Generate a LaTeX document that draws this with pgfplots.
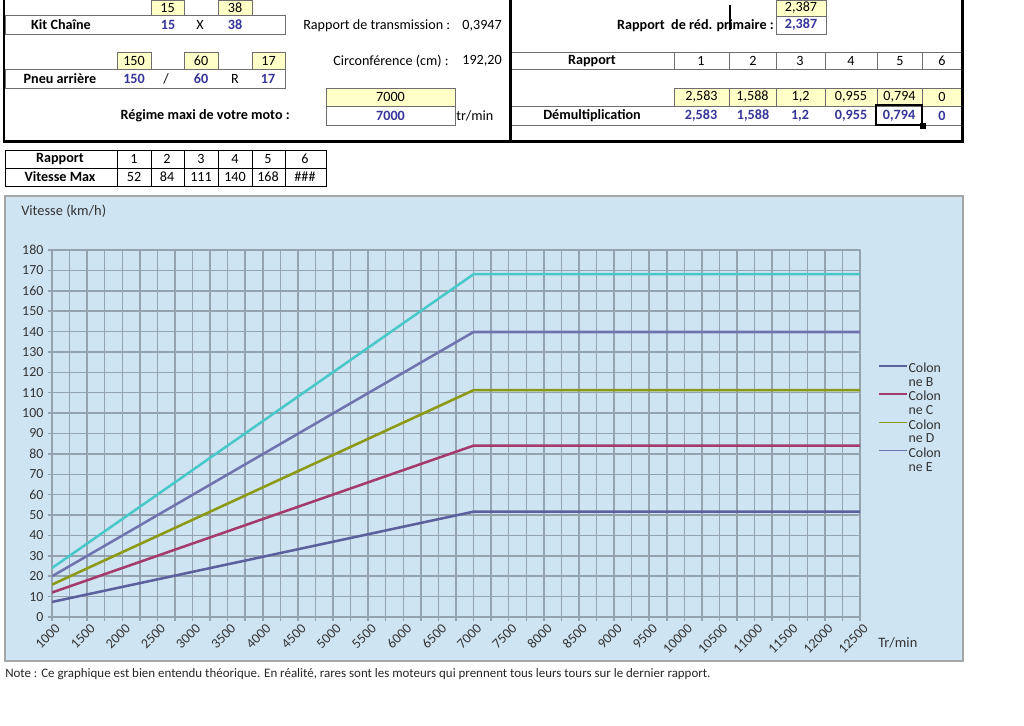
\documentclass[border=0pt]{standalone}
\usepackage{pgfplots}
\pgfplotsset{compat=1.18}
\usepackage{fontspec}
\setmainfont{Carlito}
\definecolor{bgchart}{HTML}{CFE4F2}
\definecolor{gridc}{HTML}{95A3AE}
\definecolor{yel}{HTML}{FFFFC8}
\definecolor{valblue}{HTML}{35359A}
\definecolor{cellline}{HTML}{6E6E6E}
\definecolor{sB}{HTML}{5C619E}
\definecolor{sC}{HTML}{A53A6C}
\definecolor{sD}{HTML}{8B9A12}
\definecolor{sE}{HTML}{7074AE}
\definecolor{sF}{HTML}{48C8C8}
\newcommand{\mf}{\fontsize{10.6}{12}\selectfont}
\newcommand{\ycell}[5]{\filldraw[fill=yel,draw=cellline,line width=0.6pt] (#1,-#2) rectangle (#3,-#4); \node at ({(#1+#3)/2},{-(#2+#4)/2}) {#5};}
\newcommand{\wcell}[5]{\filldraw[fill=white,draw=cellline,line width=0.6pt] (#1,-#2) rectangle (#3,-#4); \node[text=valblue,font=\mf\bfseries] at ({(#1+#3)/2},{-(#2+#4)/2}) {#5};}
\newcommand{\bv}[3]{\node[text=valblue,font=\mf\bfseries] at (#1,-#2) {#3};}
\begin{document}
\begin{tikzpicture}[x=0.75pt,y=0.75pt,font=\mf, inner sep=0pt]
\useasboundingbox (0,0) rectangle (1024,-725);
\fill[white] (0,0) rectangle (1024,-725);
% ---------- left block ----------
\ycell{151}{0}{184}{15}{15}
\ycell{218}{0}{252}{15}{38}
\draw[cellline,line width=0.6pt] (5,-15) rectangle (285,-34);
\node[font=\mf\bfseries] at (61,-25) {Kit Chaîne};
\bv{168}{25}{15}
\node at (200,-25) {X};
\bv{235}{25}{38}
\node[anchor=west] at (303,-26) {Rapport de transmission :};
\node[anchor=east] at (502,-26) {0,3947};
\ycell{117}{52}{151}{69}{150}
\ycell{184}{52}{218}{69}{60}
\ycell{252}{52}{285}{69}{17}
\draw[cellline,line width=0.6pt] (5,-69) rectangle (285,-88);
\node[font=\mf\bfseries] at (60,-79) {Pneu arrière};
\bv{134}{79}{150}
\node at (166,-79) {/};
\bv{201}{79}{60}
\node at (235,-79) {R};
\bv{268}{79}{17}
\node[anchor=west] at (333,-61) {Circonférence (cm) :};
\node[anchor=east] at (502,-61) {192,20};
\ycell{326}{88}{455}{106}{7000}
\wcell{326}{106}{455}{125}{7000}
\node[anchor=west] at (456,-116) {tr/min};
\node[anchor=east,font=\mf\bfseries] at (290,-116) {Régime maxi de votre moto :};
% ---------- right block ----------
\ycell{776}{0}{826}{16}{2,387}
\wcell{776}{16}{826}{34}{2,387}
\node[anchor=east,font=\mf\bfseries] at (774,-26) {Rapport\ \ de réd. primaire :};
\draw[black,line width=1.3pt] (730,-5) -- (730,-30);
\draw[cellline,line width=0.6pt] (510,-52) -- (962,-52) (510,-69) -- (962,-69);
\foreach \xx in {674,729,776,825,877,922} {\draw[cellline,line width=0.6pt] (\xx,-52) -- (\xx,-69);}
\node[font=\mf\bfseries] at (592,-61) {Rapport};
\foreach \xx/\tt in {701/1,753/2,800/3,851/4,900/5,942/6} {\node at (\xx,-61) {\tt};}
\ycell{674}{88}{729}{106}{2,583}
\ycell{729}{88}{776}{106}{1,588}
\ycell{776}{88}{825}{106}{1,2}
\ycell{825}{88}{877}{106}{0,955}
\ycell{877}{88}{922}{106}{0,794}
\ycell{922}{88}{962}{106}{0}
\draw[cellline,line width=0.6pt] (510,-106) rectangle (962,-125);
\node[font=\mf\bfseries] at (592,-116) {Démultiplication};
\bv{701}{116}{2,583}
\bv{753}{116}{1,588}
\bv{800}{116}{1,2}
\bv{851}{116}{0,955}
\bv{899}{116}{0,794}
\bv{942}{116}{0}
\draw[black,line width=1.6pt] (876,-105) rectangle (922,-125);
\fill[black] (920,-123) rectangle (926,-129);
% thick outer borders
\draw[black,line width=2.2pt] (4,0) -- (4,-141.5) -- (962.5,-141.5) -- (962.5,0);
\draw[black,line width=2.2pt] (510.5,0) -- (510.5,-141.5);
% ---------- small table ----------
\draw[black,line width=0.7pt] (5,-150) rectangle (326,-186);
\draw[black,line width=0.7pt] (5,-168) -- (326,-168);
\foreach \xx in {117,151,184,218,252,285} {\draw[black,line width=0.7pt] (\xx,-150) -- (\xx,-186);}
\node[font=\mf\bfseries] at (60,-159) {Rapport};
\node[font=\mf\bfseries] at (60,-177) {Vitesse Max};
\foreach \xx/\tt in {134/1,167/2,201/3,235/4,268/5,305/6} {\node at (\xx,-159) {\tt};}
\foreach \xx/\tt in {134/52,167/84,201/111,235/140,268/168,305/\#\#\#} {\node at (\xx,-177) {\tt};}
% ---------- chart area ----------
\filldraw[fill=bgchart,draw=black!35,line width=1.2pt] (5,-196) rectangle (963,-661);
\node[anchor=west,text=black!80,font=\fontsize{10.8}{12}\selectfont] at (21,-211) {Vitesse (km/h)};
\node[anchor=west,text=black!80,font=\fontsize{10.8}{12}\selectfont] at (878,-643) {Tr/min};
\begin{axis}[
  at={(39pt,-462.75pt)}, anchor=south west, scale only axis,
  width=606pt, height=275.25pt,
  xmin=1000, xmax=12500, ymin=0, ymax=180,
  xtick={1000,1500,...,12500}, minor x tick num=1,
  ytick={0,10,...,180},
  xtick pos=bottom, ytick pos=left,
  grid=both,
  major grid style={gridc,line width=1.1pt},
  minor grid style={gridc,line width=1.1pt},
  axis line style={gridc,line width=1.1pt},
  tick style={gridc,line width=1.1pt},
  tick align=outside,
  major tick length=3pt, minor tick length=3pt,
  /pgf/number format/assume math mode=true,
  /pgf/number format/1000 sep={},
  scaled ticks=false,
  ticklabel style={font=\fontsize{10.4}{12}\selectfont, text=black!80},
  xticklabel style={rotate=45, anchor=east, inner sep=1pt, xshift=1.2pt, yshift=-6pt},
  yticklabel style={inner sep=1pt, xshift=-2.3pt},
  legend style={at={(1.0223,0.6948)}, anchor=north west, draw=none, fill=none,
    font=\fontsize{10.4}{10.3}\selectfont, text=black!80,
    row sep=5.9pt, inner sep=0pt, nodes={inner sep=0.5pt}},
  legend cell align=left,
  legend image code/.code={\draw[#1,line width=1.2pt] (0pt,5pt) -- (21pt,5pt);},
  line join=round,
]
\addplot[sB,line width=1.9pt] coordinates {(1000,7.38) (7000,51.68) (12500,51.68)};
\addlegendentry{\begin{tabular}{@{}l@{}}Colon\\ne B\end{tabular}}
\addplot[sC,line width=1.9pt] coordinates {(1000,12.01) (7000,84.06) (12500,84.06)};
\addlegendentry{\begin{tabular}{@{}l@{}}Colon\\ne C\end{tabular}}
\addplot[sD,line width=1.9pt] coordinates {(1000,15.89) (7000,111.24) (12500,111.24)};
\addlegendentry{\begin{tabular}{@{}l@{}}Colon\\ne D\end{tabular}}
\addplot[sE,line width=1.9pt] coordinates {(1000,19.97) (7000,139.78) (12500,139.78)};
\addlegendentry{\begin{tabular}{@{}l@{}}Colon\\ne E\end{tabular}}
\addplot[sF,line width=1.9pt] coordinates {(1000,24.02) (7000,168.12) (12500,168.12)};
\end{axis}
\node[anchor=west,font=\fontsize{9.7}{11}\selectfont,text=black!85] at (5,-674) {Note : Ce graphique est bien entendu théorique. En réalité, rares sont les moteurs qui prennent tous leurs tours sur le dernier rapport.};
\end{tikzpicture}
\end{document}
